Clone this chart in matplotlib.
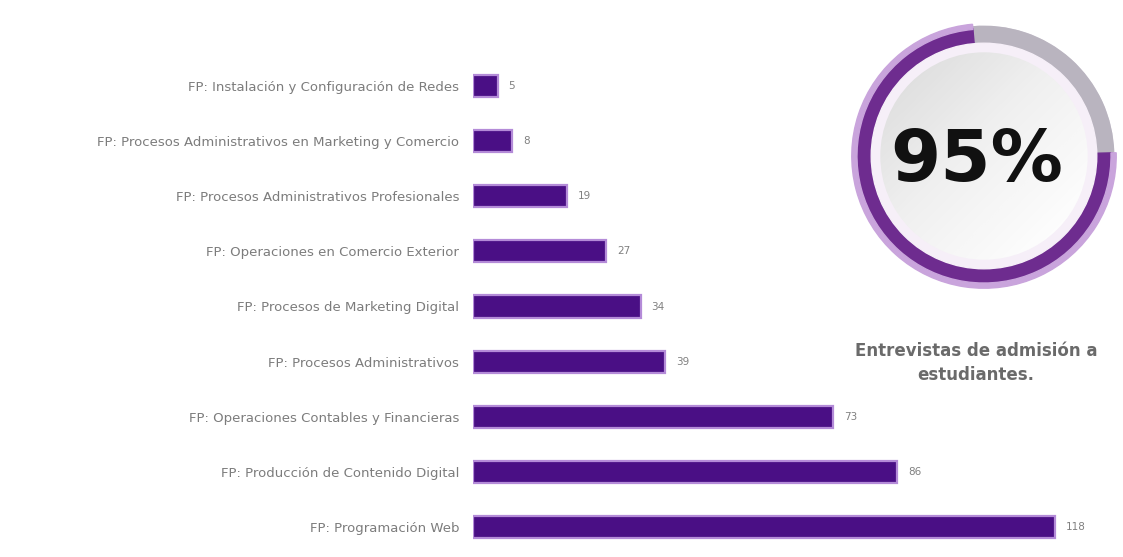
import matplotlib.pyplot as plt
import numpy as np
from matplotlib.patches import Wedge, Circle

# data
courses = [
    'FP: Instalación y Configuración de Redes',
    'FP: Procesos Administrativos en Marketing y Comercio',
    'FP: Procesos Administrativos Profesionales',
    'FP: Operaciones en Comercio Exterior',
    'FP: Procesos de Marketing Digital',
    'FP: Procesos Administrativos',
    'FP: Operaciones Contables y Financieras',
    'FP: Producción de Contenido Digital',
    'FP: Programación Web',
]
students = [5, 8, 19, 27, 34, 39, 73, 86, 118]

ring_label = '95%'
ring_share = 0.74   # purple part of the ring as drawn
ring_caption = 'Entrevistas de admisión a\nestudiantes.'

W, H = 1123, 557
fig = plt.figure(figsize=(W / 100, H / 100), dpi=100)
fig.patch.set_facecolor('white')

# bar chart
px_per_unit = 4.93
ax = fig.add_axes([473 / W, 1 - 554.5 / H, 130 * px_per_unit / W, 496 / H])
ypos = np.arange(len(courses))
ax.barh(ypos, students, height=0.4, color='#4a0f85',
        edgecolor='#b48bd8', linewidth=1.6)
for y, v in zip(ypos, students):
    ax.text(v + 2.2, y, str(v), va='center', ha='left', fontsize=7.5, color='#808080')
ax.set_xlim(0, 130)
ax.set_ylim(len(courses) - 0.5, -0.5)
ax.set_yticks(ypos)
ax.set_yticklabels(courses, fontsize=9.5, color='#7c7c7c')
ax.tick_params(axis='y', length=0, pad=10)
ax.set_xticks([])
for s in ax.spines.values():
    s.set_visible(False)
ax.patch.set_alpha(0)

# ring badge
rax = fig.add_axes([844 / W, 1 - 296 / H, 280 / W, 280 / H])
rax.set_xlim(-1.08, 1.08)
rax.set_ylim(-1.08, 1.08)
rax.set_aspect('equal')
rax.axis('off')

start = 95
end = start + 360 * ring_share
rax.add_patch(Wedge((0, 0), 1.0, 0, 360, width=0.16, color='#d9d3df'))
rax.add_patch(Wedge((0, 0), 1.0, end, start + 360, width=0.13, color='#b9b4bf'))
rax.add_patch(Wedge((0, 0), 0.99, start, end, width=0.12, color='#6e2c8f'))
rax.add_patch(Wedge((0, 0), 1.02, start, end, width=0.04, color='#c9a4dc'))
rax.add_patch(Circle((0, 0), 0.87, color='#f6eff8'))

# inner disk with a soft grey gradient
gx, gy = np.meshgrid(np.linspace(-1, 1, 200), np.linspace(-1, 1, 200))
grad = 0.25 + 0.3 * (gy - gx) / 2
im = rax.imshow(grad, extent=(-0.8, 0.8, -0.8, 0.8), cmap='Greys', vmin=0, vmax=2.2,
                origin='lower', interpolation='bilinear', zorder=2)
clip = Circle((0, 0), 0.8, transform=rax.transData)
im.set_clip_path(clip)

rax.text(-0.06, -0.04, ring_label, ha='center', va='center', fontsize=52,
         fontweight='bold', color='#111111', zorder=3)

fig.text(976 / W, 1 - 363 / H, ring_caption, ha='center', va='center',
         fontsize=12, fontweight='bold', color='#6a6a6a', linespacing=1.4)

fig.savefig('out.png', dpi=100)
plt.close()
